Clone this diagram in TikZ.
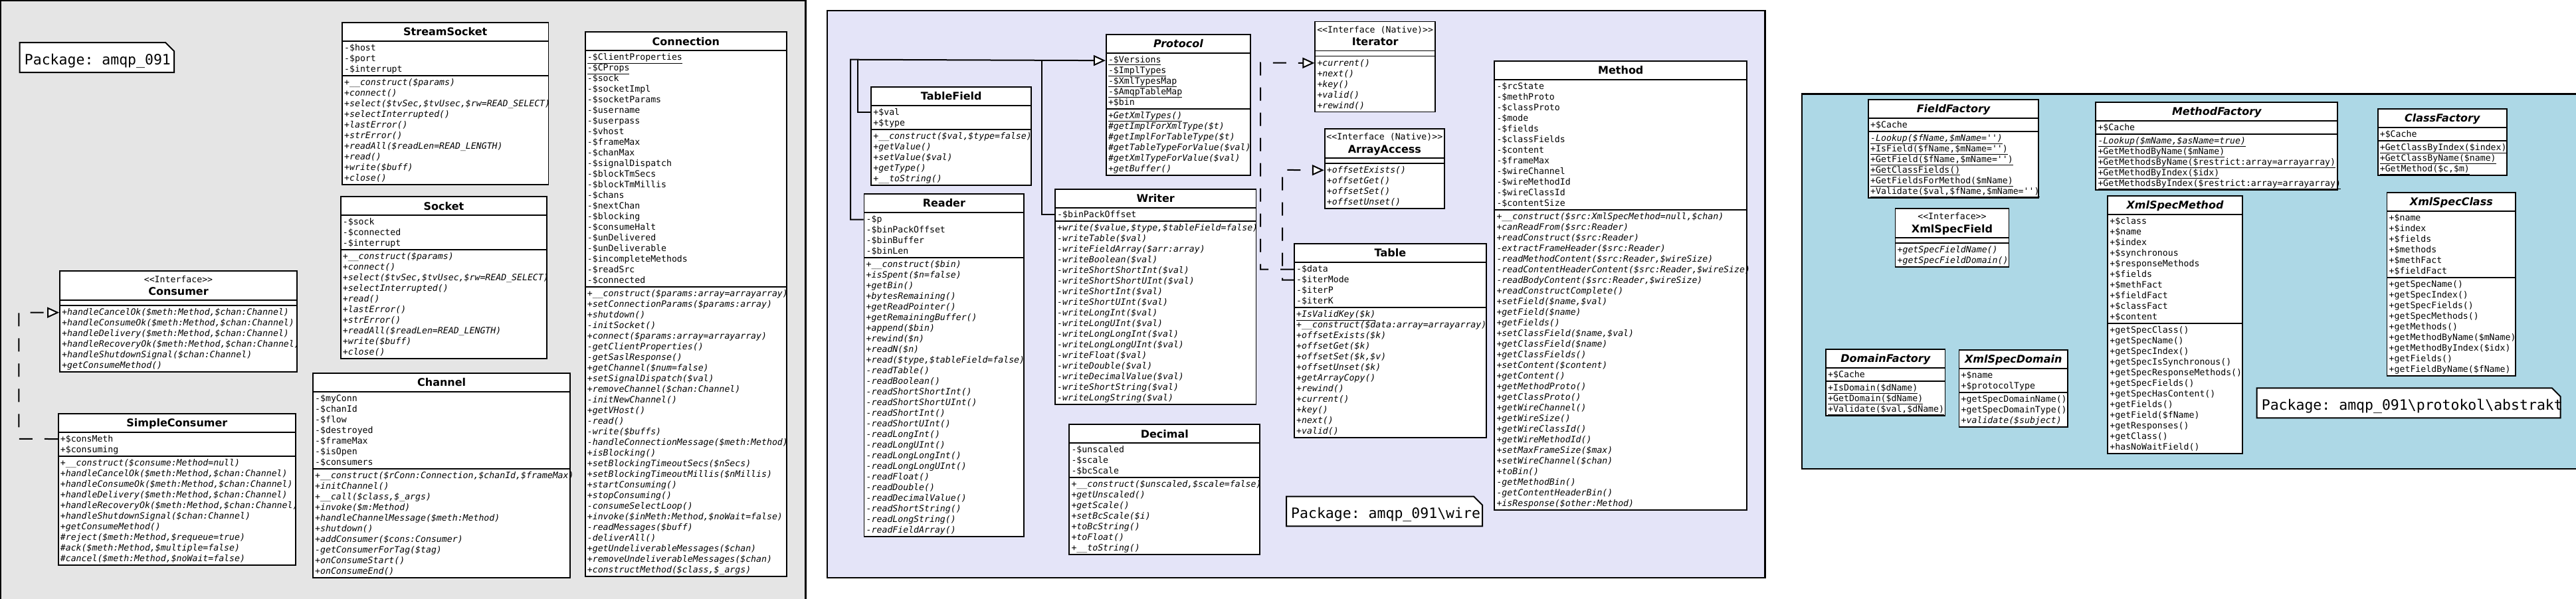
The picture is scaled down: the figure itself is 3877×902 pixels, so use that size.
\documentclass[tikz,border=0pt]{standalone}
\usepackage{fontspec}
\setmainfont{DejaVu Sans}
\setsansfont{DejaVu Sans}
\setmonofont{DejaVu Sans Mono}
\usetikzlibrary{arrows.meta,fit}
\definecolor{pkgA}{HTML}{E5E5E5}
\definecolor{pkgB}{HTML}{E4E4F8}
\definecolor{pkgC}{HTML}{ADD8E6}
\tikzset{
 ubox/.style={draw=black, line width=1.8pt, fill=white, inner sep=0pt, rectangle},
 ucomp/.style={line width=1.8pt},
 uattr/.style={anchor=base west, inner sep=0pt, font=\ttfamily\fontsize{13.2}{16}\selectfont},
 umeth/.style={anchor=base west, inner sep=0pt, font=\ttfamily\itshape\fontsize{13.2}{16}\selectfont},
 utitle/.style={anchor=base, inner sep=0pt, font=\sffamily\bfseries\fontsize{16}{19}\selectfont},
 uabs/.style={font=\sffamily\bfseries\itshape\fontsize{16}{19}\selectfont},
 ustereo/.style={anchor=base, inner sep=0pt, font=\ttfamily\fontsize{13.2}{16}\selectfont},
 pkg/.style={draw=black, line width=2.5pt},
 notebox/.style={draw=black, line width=2pt, fill=white},
 notetext/.style={anchor=base west, inner sep=0pt, font=\ttfamily\fontsize{21.5}{26}\selectfont},
 genl/.style={line width=2pt, -{Triangle[length=18pt,width=16pt,fill=white]}},
 reall/.style={genl, dash pattern=on 20pt off 18pt},
}
% class with header 28
\newcommand\uclass[8][]{%
  \pgfmathsetmacro\uyh{#4+28}%
  \pgfmathsetmacro\uya{\uyh+16*#6+4}%
  \pgfmathsetmacro\uyb{\uya+16*#7+4}%
  \pgfmathsetmacro\uxm{(#3+#5)/2}%
  \node[ubox,fit={(#3,#4) (#5,\uyb)}] (#2) {};
  \draw[ucomp] (#3,\uyh) -- (#5,\uyh) (#3,\uya) -- (#5,\uya);
  \coordinate (#2-h) at (#3,\uyh);
  \coordinate (#2-a) at (#3,\uya);
  \node[utitle,#1] (#2-t) at (\uxm,#4+19.8) {#8};
}
% interface with stereotype
\newcommand\uiface[8][]{% id x1 y1 x2 nm stereo title
  \pgfmathsetmacro\uyh{#4+44}%
  \pgfmathsetmacro\uya{\uyh+8}%
  \pgfmathsetmacro\uyb{\uya+16*#6+4}%
  \pgfmathsetmacro\uxm{(#3+#5)/2}%
  \node[ubox,fit={(#3,#4) (#5,\uyb)}] (#2) {};
  \draw[ucomp] (#3,\uyh) -- (#5,\uyh) (#3,\uya) -- (#5,\uya);
  \coordinate (#2-h) at (#3,\uyh);
  \coordinate (#2-a) at (#3,\uya);
  \node[ustereo] (#2-s) at (\uxm,#4+17) {#7};
  \node[utitle,#1] (#2-t) at (\uxm,#4+36.3) {#8};
}
\newcommand\uattrs[3][uattr]{%
  \foreach \utxt [count=\uk] in {#3}{%
    \node[#1] (#2-a\uk) at ([shift={(3,14.5+16*(\uk-1))}]#2-h) {\utxt};}}
\newcommand\umeths[3][umeth]{%
  \foreach \utxt [count=\uk] in {#3}{%
    \node[#1] (#2-m\uk) at ([shift={(3,14.5+16*(\uk-1))}]#2-a) {\utxt};}}
\newcommand\unote[6]{% id x1 y1 x2 y2 text
  \draw[notebox] (#2,#3) -- (#4-13,#3) -- (#4,#3+13) -- (#4,#5) -- (#2,#5) -- cycle;
  \node[notetext] (#1) at (#2+7,#5-12) {#6};
}
\begin{document}
\begin{tikzpicture}[x=1pt,y=-1pt]
\useasboundingbox (0,0) rectangle (3877,902);
\fill[white] (0,0) rectangle (3877,902);
% packages
\draw[pkg,fill=pkgA] (1,1) rectangle (1212.7,915);
\draw[pkg,fill=pkgB] (1245,16) rectangle (2656.7,870);
\draw[pkg,fill=pkgC] (2712,141.7) rectangle (3895,706);

% ================= package amqp_091 =================
\unote{lbl1}{29.7}{64}{262}{109}{Package: amqp\_091}

\uclass{streamsocket}{515}{33.7}{825.5}{3}{10}{StreamSocket}
\uattrs{streamsocket}{{-\$host},{-\$port},{-\$interrupt}}
\umeths{streamsocket}{{+\_\_construct(\$params)},{+connect()},{+select(\$tvSec,\$tvUsec,\$rw=READ\_SELECT)},{+selectInterrupted()},{+lastError()},{+strError()},{+readAll(\$readLen=READ\_LENGTH)},{+read()},{+write(\$buff)},{+close()}}

\uclass{socket}{512.7}{296.2}{823.3}{3}{10}{Socket}
\uattrs{socket}{{-\$sock},{-\$connected},{-\$interrupt}}
\umeths{socket}{{+\_\_construct(\$params)},{+connect()},{+select(\$tvSec,\$tvUsec,\$rw=READ\_SELECT)},{+selectInterrupted()},{+read()},{+lastError()},{+strError()},{+readAll(\$readLen=READ\_LENGTH)},{+write(\$buff)},{+close()}}

\uclass{connection}{880.7}{48.3}{1184}{22}{27}{Connection}
\uattrs{connection}{{\underline{-\$ClientProperties}},{\underline{-\$CProps}},{-\$sock},{-\$socketImpl},{-\$socketParams},{-\$username},{-\$userpass},{-\$vhost},{-\$frameMax},{-\$chanMax},{-\$signalDispatch},{-\$blockTmSecs},{-\$blockTmMillis},{-\$chans},{-\$nextChan},{-\$blocking},{-\$consumeHalt},{-\$unDelivered},{-\$unDeliverable},{-\$incompleteMethods},{-\$readSrc},{-\$connected}}
\umeths{connection}{{+\_\_construct(\$params:array=arrayarray)},{+setConnectionParams(\$params:array)},{+shutdown()},{-initSocket()},{+connect(\$params:array=arrayarray)},{-getClientProperties()},{-getSaslResponse()},{+getChannel(\$num=false)},{+setSignalDispatch(\$val)},{+removeChannel(\$chan:Channel)},{-initNewChannel()},{+getVHost()},{-read()},{-write(\$buffs)},{-handleConnectionMessage(\$meth:Method)},{+isBlocking()},{+setBlockingTimeoutSecs(\$nSecs)},{+setBlockingTimeoutMillis(\$nMillis)},{+startConsuming()},{+stopConsuming()},{-consumeSelectLoop()},{+invoke(\$inMeth:Method,\$noWait=false)},{-readMessages(\$buff)},{-deliverAll()},{+getUndeliverableMessages(\$chan)},{+removeUndeliverableMessages(\$chan)},{+constructMethod(\$class,\$\_args)}}

\uiface{consumer}{90}{408.2}{447}{6}{<<Interface>>}{Consumer}
\umeths{consumer}{{+handleCancelOk(\$meth:Method,\$chan:Channel)},{+handleConsumeOk(\$meth:Method,\$chan:Channel)},{+handleDelivery(\$meth:Method,\$chan:Channel)},{+handleRecoveryOk(\$meth:Method,\$chan:Channel)},{+handleShutdownSignal(\$chan:Channel)},{+getConsumeMethod()}}

\uclass{simpleconsumer}{87.7}{622.6}{445}{2}{10}{SimpleConsumer}
\uattrs{simpleconsumer}{{+\$consMeth},{+\$consuming}}
\umeths{simpleconsumer}{{+\_\_construct(\$consume:Method=null)},{+handleCancelOk(\$meth:Method,\$chan:Channel)},{+handleConsumeOk(\$meth:Method,\$chan:Channel)},{+handleDelivery(\$meth:Method,\$chan:Channel)},{+handleRecoveryOk(\$meth:Method,\$chan:Channel)},{+handleShutdownSignal(\$chan:Channel)},{+getConsumeMethod()},{\#reject(\$meth:Method,\$requeue=true)},{\#ack(\$meth:Method,\$multiple=false)},{\#cancel(\$meth:Method,\$noWait=false)}}

\uclass{channel}{471}{561.9}{858.3}{7}{10}{Channel}
\uattrs{channel}{{-\$myConn},{-\$chanId},{-\$flow},{-\$destroyed},{-\$frameMax},{-\$isOpen},{-\$consumers}}
\umeths{channel}{{+\_\_construct(\$rConn:Connection,\$chanId,\$frameMax)},{+initChannel()},{+\_\_call(\$class,\$\_args)},{+invoke(\$m:Method)},{+handleChannelMessage(\$meth:Method)},{+shutdown()},{+addConsumer(\$cons:Consumer)},{-getConsumerForTag(\$tag)},{+onConsumeStart()},{+onConsumeEnd()}}

\coordinate (c1) at (28.3,660.8);
\coordinate (c2) at (28.3,470.7);
\draw[reall] (simpleconsumer.west |- simpleconsumer-a1) -- (c1) -- (c2) -- (consumer.west |- consumer-m1);

% ================= package amqp_091\wire =================
\unote{lbl2}{1936}{747.7}{2231.2}{792.3}{Package: amqp\_091\textbackslash wire}

\uclass[uabs]{protocol}{1664.8}{51.7}{1882}{5}{6}{Protocol}
\uattrs{protocol}{{\underline{-\$Versions}},{\underline{-\$ImplTypes}},{\underline{-\$XmlTypesMap}},{\underline{-\$AmqpTableMap}},{+\$bin}}
\umeths{protocol}{{\underline{+GetXmlTypes()}},{\#getImplForXmlType(\$t)},{\#getImplForTableType(\$t)},{\#getTableTypeForValue(\$val)},{\#getXmlTypeForValue(\$val)},{+getBuffer()}}

\uclass{tablefield}{1311.2}{130.7}{1552.3}{2}{5}{TableField}
\uattrs{tablefield}{{+\$val},{+\$type}}
\umeths{tablefield}{{+\_\_construct(\$val,\$type=false)},{+getValue()},{+setValue(\$val)},{+getType()},{+\_\_toString()}}

\uclass{reader}{1300.5}{291.7}{1541.2}{4}{26}{Reader}
\uattrs{reader}{{-\$p},{-\$binPackOffset},{-\$binBuffer},{-\$binLen}}
\umeths{reader}{{+\_\_construct(\$bin)},{+isSpent(\$n=false)},{+getBin()},{+bytesRemaining()},{+getReadPointer()},{+getRemainingBuffer()},{+append(\$bin)},{+rewind(\$n)},{+readN(\$n)},{+read(\$type,\$tableField=false)},{-readTable()},{-readBoolean()},{-readShortShortInt()},{-readShortShortUInt()},{-readShortInt()},{-readShortUInt()},{-readLongInt()},{-readLongUInt()},{-readLongLongInt()},{-readLongLongUInt()},{-readFloat()},{-readDouble()},{-readDecimalValue()},{-readShortString()},{-readLongString()},{-readFieldArray()}}

\uclass{writer}{1588}{284.6}{1890.5}{1}{17}{Writer}
\uattrs{writer}{{-\$binPackOffset}}
\umeths{writer}{{+write(\$value,\$type,\$tableField=false)},{-writeTable(\$val)},{-writeFieldArray(\$arr:array)},{-writeBoolean(\$val)},{-writeShortShortInt(\$val)},{-writeShortShortUInt(\$val)},{-writeShortInt(\$val)},{-writeShortUInt(\$val)},{-writeLongInt(\$val)},{-writeLongUInt(\$val)},{-writeLongLongInt(\$val)},{-writeLongLongUInt(\$val)},{-writeFloat(\$val)},{-writeDouble(\$val)},{-writeDecimalValue(\$val)},{-writeShortString(\$val)},{-writeLongString(\$val)}}

\uclass{decimal}{1609.3}{639.3}{1896.3}{3}{7}{Decimal}
\uattrs{decimal}{{-\$unscaled},{-\$scale},{-\$bcScale}}
\umeths{decimal}{{+\_\_construct(\$unscaled,\$scale=false)},{+getUnscaled()},{+getScale()},{+setBcScale(\$i)},{+toBcString()},{+toFloat()},{+\_\_toString()}}

\uiface{iterator}{1979.3}{32.5}{2160}{5}{<<Interface (Native)>>}{Iterator}
\umeths{iterator}{{+current()},{+next()},{+key()},{+valid()},{+rewind()}}

\uiface{arrayaccess}{1993.7}{193.9}{2174}{4}{<<Interface (Native)>>}{ArrayAccess}
\umeths{arrayaccess}{{+offsetExists()},{+offsetGet()},{+offsetSet()},{+offsetUnset()}}

\uclass{table}{1948}{367.1}{2236.7}{4}{12}{Table}
\uattrs{table}{{-\$data},{-\$iterMode},{-\$iterP},{-\$iterK}}
\umeths{table}{{\underline{+IsValidKey(\$k)}},{+\_\_construct(\$data:array=arrayarray)},{+offsetExists(\$k)},{+offsetGet(\$k)},{+offsetSet(\$k,\$v)},{+offsetUnset(\$k)},{+getArrayCopy()},{+rewind()},{+current()},{+key()},{+next()},{+valid()}}

\uclass{method}{2249.3}{92.1}{2629.3}{12}{28}{Method}
\uattrs{method}{{-\$rcState},{-\$methProto},{-\$classProto},{-\$mode},{-\$fields},{-\$classFields},{-\$content},{-\$frameMax},{-\$wireChannel},{-\$wireMethodId},{-\$wireClassId},{-\$contentSize}}
\umeths{method}{{+\_\_construct(\$src:XmlSpecMethod=null,\$chan)},{+canReadFrom(\$src:Reader)},{+readConstruct(\$src:Reader)},{-extractFrameHeader(\$src:Reader)},{-readMethodContent(\$src:Reader,\$wireSize)},{-readContentHeaderContent(\$src:Reader,\$wireSize)},{-readBodyContent(\$src:Reader,\$wireSize)},{+readConstructComplete()},{+setField(\$name,\$val)},{+getField(\$name)},{+getFields()},{+setClassField(\$name,\$val)},{+getClassField(\$name)},{+getClassFields()},{+setContent(\$content)},{+getContent()},{+getMethodProto()},{+getClassProto()},{+getWireChannel()},{+getWireSize()},{+getWireClassId()},{+getWireMethodId()},{+setMaxFrameSize(\$max)},{+setWireChannel(\$chan)},{+toBin()},{-getMethodBin()},{-getContentHeaderBin()},{+isResponse(\$other:Method)}}

% generalisations to Protocol
\coordinate (g0) at (1280.2,89.7);
\coordinate (g1) at (1290.9,89.7);
\coordinate (g2) at (1568,89.7);
\draw[line width=2pt] (tablefield.west |- tablefield-a1) -| (g1);
\draw[line width=2pt] (writer.west |- writer-a1) -| (g2);
\draw[genl] (reader.west |- reader-a1) -| (g0) -- (protocol.west |- protocol-a1);
% realisations of Table
\coordinate (ti) at (1897,94.5);
\coordinate (ta) at (1930,255.9);
\draw[reall] (table.west |- table-a1) -| (ti) -- (iterator.west |- iterator-m1);
\draw[reall] (table.west |- table-a2) -| (ta) -- (arrayaccess.west |- arrayaccess-m1);

% ================= package amqp_091\protokol\abstrakt =================
\unote{lbl3}{3396.6}{584.3}{3853.7}{629.3}{Package: amqp\_091\textbackslash protokol\textbackslash abstrakt}

\uclass[uabs]{fieldfactory}{2812}{150}{3068}{1}{6}{FieldFactory}
\uattrs{fieldfactory}{{+\$Cache}}
\umeths[uattr]{fieldfactory}{{\itshape\underline{-Lookup(\$fName,\$mName='')}},{\underline{+IsField(\$fName,\$mName='')}},{\underline{+GetField(\$fName,\$mName='')}},{\underline{+GetClassFields()}},{\underline{+GetFieldsForMethod(\$mName)}},{\underline{+Validate(\$val,\$fName,\$mName='')}}}

\uclass[uabs]{methodfactory}{3154.3}{154}{3518.3}{1}{5}{MethodFactory}
\uattrs{methodfactory}{{+\$Cache}}
\umeths[uattr]{methodfactory}{{\itshape\underline{-Lookup(\$mName,\$asName=true)}},{\underline{+GetMethodByName(\$mName)}},{\underline{+GetMethodsByName(\$restrict:array=arrayarray)}},{\underline{+GetMethodByIndex(\$idx)}},{\underline{+GetMethodsByIndex(\$restrict:array=arrayarray)}}}

\uclass[uabs]{classfactory}{3578.6}{164}{3772.8}{1}{3}{ClassFactory}
\uattrs{classfactory}{{+\$Cache}}
\umeths[uattr]{classfactory}{{\underline{+GetClassByIndex(\$index)}},{\underline{+GetClassByName(\$name)}},{\underline{+GetMethod(\$c,\$m)}}}

\uiface{xmlspecfield}{2852.4}{313.7}{3023.5}{2}{<<Interface>>}{XmlSpecField}
\umeths{xmlspecfield}{{+getSpecFieldName()},{+getSpecFieldDomain()}}

\uclass[uabs]{xmlspecmethod}{3172.2}{295}{3374.8}{10}{12}{XmlSpecMethod}
\uattrs{xmlspecmethod}{{+\$class},{+\$name},{+\$index},{+\$synchronous},{+\$responseMethods},{+\$fields},{+\$methFact},{+\$fieldFact},{+\$classFact},{+\$content}}
\umeths[uattr]{xmlspecmethod}{{+getSpecClass()},{+getSpecName()},{+getSpecIndex()},{+getSpecIsSynchronous()},{+getSpecResponseMethods()},{+getSpecFields()},{+getSpecHasContent()},{+getFields()},{+getField(\$fName)},{+getResponses()},{+getClass()},{+hasNoWaitField()}}

\uclass[uabs]{xmlspecclass}{3592.5}{290}{3786.2}{6}{9}{XmlSpecClass}
\uattrs{xmlspecclass}{{+\$name},{+\$index},{+\$fields},{+\$methods},{+\$methFact},{+\$fieldFact}}
\umeths[uattr]{xmlspecclass}{{+getSpecName()},{+getSpecIndex()},{+getSpecFields()},{+getSpecMethods()},{+getMethods()},{+getMethodByName(\$mName)},{+getMethodByIndex(\$idx)},{+getFields()},{+getFieldByName(\$fName)}}

\uclass[uabs]{domainfactory}{2748}{526}{2927.4}{1}{3}{DomainFactory}
\uattrs{domainfactory}{{+\$Cache}}
\umeths[uattr]{domainfactory}{{\underline{+IsDomain(\$dName)}},{\underline{+GetDomain(\$dName)}},{\underline{+Validate(\$val,\$dName)}}}

\uclass[uabs]{xmlspecdomain}{2948.5}{526.7}{3112.1}{2}{3}{XmlSpecDomain}
\uattrs{xmlspecdomain}{{+\$name},{+\$protocolType}}
\umeths[uattr]{xmlspecdomain}{{+getSpecDomainName()},{+getSpecDomainType()},{\itshape +validate(\$subject)}}
\end{tikzpicture}
\end{document}
